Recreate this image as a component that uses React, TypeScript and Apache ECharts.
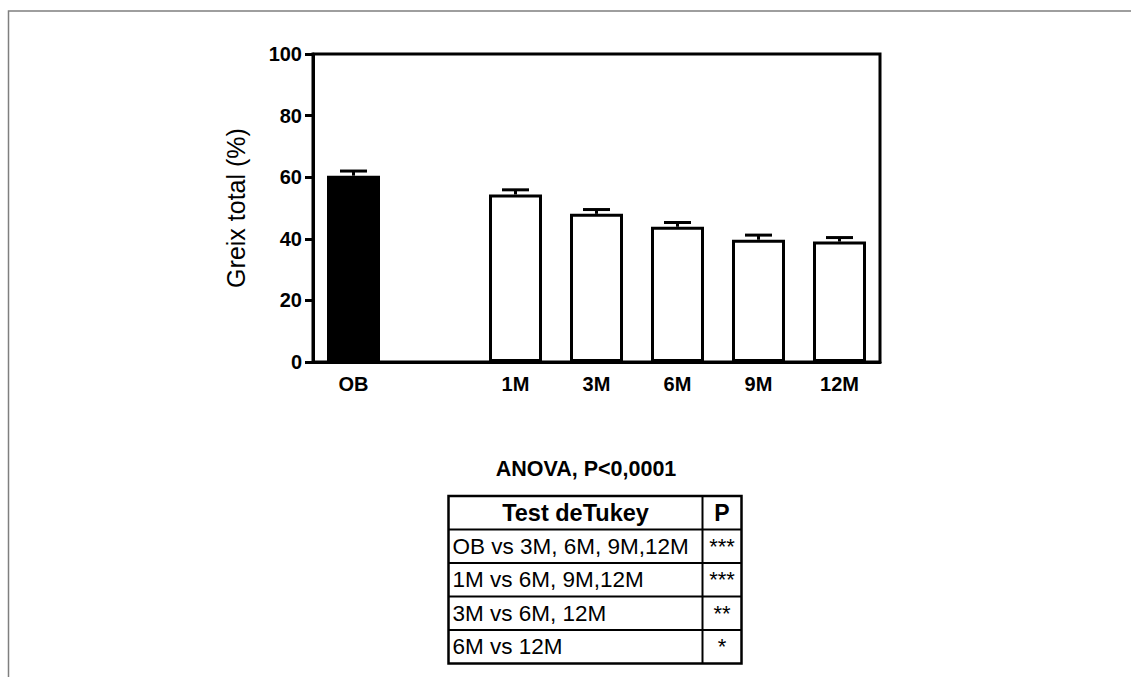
import { useEffect, useRef } from 'react';
import * as echarts from 'echarts';

// Groups on the x axis (the empty slot separates the baseline group from follow-ups)
const groups = ['OB', '', '1M', '3M', '6M', '9M', '12M'];
// Mean total fat (%) per group, and its standard error
const means = [60.5, null, 54.4, 48.1, 43.9, 39.7, 39.1];
const sems = [1.5, null, 1.5, 1.4, 1.4, 1.5, 1.3];
const yTicks = [0, 20, 40, 60, 80, 100];
const yTitle = 'Greix total (%)';

// Post-hoc summary shown under the chart
const anovaTitle = 'ANOVA, P<0,0001';
const tableHeader = ['Test deTukey', 'P'];
const tukeyPairs = ['OB vs 3M, 6M, 9M,12M', '1M vs 6M, 9M,12M', '3M vs 6M, 12M', '6M vs 12M'];
const tukeyStars = ['***', '***', '**', '*'];

const FONT = 'Arial, "Liberation Sans", Helvetica, sans-serif';

function buildTable() {
  const left = 448.5;
  const split = 702.5;
  const right = 741.5;
  const top = 496;
  const rowH = 33.5;
  const rows = tukeyPairs.length + 1;
  const bottom = top + rows * rowH;
  const els: any[] = [];
  // inner row separators
  for (let r = 1; r < rows; r++) {
    const y = top + r * rowH;
    els.push({
      type: 'line',
      silent: true,
      shape: { x1: left, y1: y, x2: right, y2: y },
      style: { stroke: '#000', lineWidth: 2 },
    });
  }
  // column separator
  els.push({
    type: 'line',
    silent: true,
    shape: { x1: split, y1: top, x2: split, y2: bottom },
    style: { stroke: '#000', lineWidth: 2 },
  });
  // outer frame
  els.push({
    type: 'rect',
    silent: true,
    shape: { x: left, y: top, width: right - left, height: bottom - top },
    style: { fill: 'none', stroke: '#000', lineWidth: 2.5 },
  });
  // header
  els.push({
    type: 'text',
    silent: true,
    style: {
      text: tableHeader[0],
      x: (left + split) / 2,
      y: top + rowH / 2,
      align: 'center',
      verticalAlign: 'middle',
      fontFamily: FONT,
      fontWeight: 'bold',
      fontSize: 23.5,
      fill: '#000',
    },
  });
  els.push({
    type: 'text',
    silent: true,
    style: {
      text: tableHeader[1],
      x: (split + right) / 2,
      y: top + rowH / 2,
      align: 'center',
      verticalAlign: 'middle',
      fontFamily: FONT,
      fontWeight: 'bold',
      fontSize: 23,
      fill: '#000',
    },
  });
  tukeyPairs.forEach((pair, i) => {
    const cy = top + (i + 1.5) * rowH;
    els.push({
      type: 'text',
      silent: true,
      style: {
        text: pair,
        x: left + 4,
        y: cy,
        align: 'left',
        verticalAlign: 'middle',
        fontFamily: FONT,
        fontSize: 22.5,
        fill: '#000',
      },
    });
    els.push({
      type: 'text',
      silent: true,
      style: {
        text: tukeyStars[i],
        x: (split + right) / 2,
        y: cy,
        align: 'center',
        verticalAlign: 'middle',
        fontFamily: FONT,
        fontSize: 22,
        fill: '#000',
      },
    });
  });
  return els;
}

export default function App() {
  const ref = useRef<HTMLDivElement>(null);

  useEffect(() => {
    if (!ref.current) return;
    const chart = echarts.init(ref.current, undefined, { renderer: 'svg' });

    const barData = means.map((v, i) =>
      v == null
        ? '-'
        : {
            value: v,
            itemStyle: { color: groups[i] === 'OB' ? '#000' : '#fff' },
          }
    );
    const errData = means
      .map((v, i) => (v == null ? null : [i, v, sems[i]]))
      .filter((d) => d != null);

    chart.setOption({
      animation: false,
      backgroundColor: '#fff',
      textStyle: { fontFamily: FONT },
      grid: {
        left: 313,
        top: 54,
        width: 567,
        height: 308,
        show: true,
        borderColor: '#000',
        borderWidth: 3,
        containLabel: false,
      },
      xAxis: {
        type: 'category',
        data: groups,
        boundaryGap: true,
        axisTick: { show: false },
        axisLine: { lineStyle: { color: '#000', width: 3 } },
        axisLabel: {
          interval: 0,
          margin: 12,
          color: '#000',
          fontSize: 20,
          fontWeight: 'bold',
          fontFamily: FONT,
        },
        splitLine: { show: false },
      },
      yAxis: {
        type: 'value',
        min: yTicks[0],
        max: yTicks[yTicks.length - 1],
        interval: yTicks[1] - yTicks[0],
        name: yTitle,
        nameLocation: 'middle',
        nameGap: 65,
        nameTextStyle: { color: '#000', fontSize: 25, fontFamily: FONT },
        axisLine: { show: true, lineStyle: { color: '#000', width: 3 } },
        axisTick: { show: true, length: 8, lineStyle: { color: '#000', width: 3 } },
        axisLabel: {
          margin: 11,
          color: '#000',
          fontSize: 20,
          fontWeight: 'bold',
          fontFamily: FONT,
        },
        splitLine: { show: false },
      },
      series: [
        {
          type: 'bar',
          data: barData,
          barWidth: 53,
          itemStyle: { borderColor: '#000', borderWidth: 3 },
          z: 2,
        },
        {
          type: 'custom',
          data: errData,
          encode: { x: 0, y: 1 },
          z: 3,
          renderItem: (_params: any, api: any) => {
            const x = api.value(0);
            const m = api.value(1);
            const e = api.value(2);
            const base = api.coord([x, m]);
            const top = api.coord([x, m + e]);
            const half = 13.5;
            return {
              type: 'group',
              children: [
                {
                  type: 'line',
                  shape: { x1: base[0], y1: base[1], x2: top[0], y2: top[1] },
                  style: { stroke: '#000', lineWidth: 3 },
                },
                {
                  type: 'line',
                  shape: { x1: top[0] - half, y1: top[1], x2: top[0] + half, y2: top[1] },
                  style: { stroke: '#000', lineWidth: 3 },
                },
              ],
            };
          },
        },
      ],
      graphic: [
        {
          type: 'polyline',
          silent: true,
          shape: { points: [[8.5, 700], [8.5, 11], [1140, 11]] },
          style: { stroke: '#7f7f7f', lineWidth: 1.5, fill: 'none' },
        },
        {
          type: 'text',
          silent: true,
          style: {
            text: anovaTitle,
            x: 586,
            y: 469,
            align: 'center',
            verticalAlign: 'middle',
            fontFamily: FONT,
            fontWeight: 'bold',
            fontSize: 21.5,
            fill: '#000',
          },
        },
        ...buildTable(),
      ],
    });

    return () => chart.dispose();
  }, []);

  return (
    <div
      ref={ref}
      style={{ position: 'absolute', left: 0, top: 0, width: 1131, height: 677 }}
    />
  );
}
